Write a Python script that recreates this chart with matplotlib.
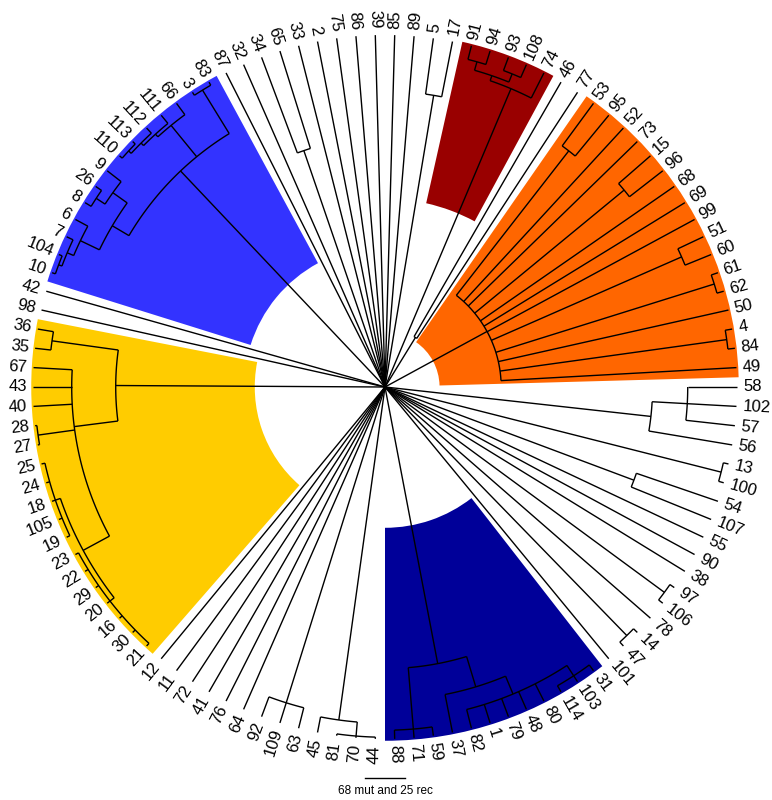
import numpy as np
import matplotlib
matplotlib.use("Agg")
import matplotlib.pyplot as plt
from matplotlib.patches import Wedge

# ---------------- data ----------------
# Genealogy written clockwise, starting at tip 87.
# Internal node = (depth, child, child, ...); depth is the node height as a
# fraction of the root-to-tip distance; leaves are tip labels.
top_white = [87, 32, (0.71, 34, 65), 33, 2, 75, 86, 39, 85, 89, (0.84, 5, 17)]
red_clade = (0.92, (0.935, (0.96, 91, 94), (0.96, 93, 108)), 74)
mid_white = [(0.165, 46, 77)]
orange_clade = (0.33, (0.85, 53, 95), 52, 73, (0.88, 15, 96), 68, 69, 99,
                (0.92, 51, 60), (0.98, 61, 62), 50, (0.98, 4, 84), 49)
right_white = [(0.76, (0.86, 58, 102, 57), 56), (0.985, 13, 100), (0.755, 54, 107),
               55, 90, 38, (0.985, 97, 106), 78, (0.985, 14, 47), 101]
navy_clade = (0.80, (0.89, (0.945, (0.98, 31, 103, 114), 80, 48, 79, 1, 82), 37),
              (0.975, 59, 71, 88))
bottom_white = [(0.955, (0.995, 44, 70, 81), 45), (0.94, 63, 109, 92), 64, 76, 41, 72, 11, 12]
yellow_clade = (0.765,
                (0.89, (0.975, (0.99, 21, 30, 16, 20, 29, 22, 23), (0.99, 19, 105, 18, 24, 25)),
                 (0.995, 27, 28), 40, 43, 67),
                (0.955, 35, 36))
left_white = [98, 42]
blue_clade = (0.845,
              (0.90, (0.96, (0.98, (0.99, 10, 104), 7), 6), (0.95, (0.98, 8, 26), 9)),
              (0.96, (0.97, (0.98, (0.99, 110, 113), 112), 111), 66),
              (0.99, 3, 83))

highlight_clades = [blue_clade, red_clade, orange_clade, navy_clade, yellow_clade]
highlight_colors = ["#3333FF", "#990000", "#FF6600", "#000099", "#FFCC00"]
highlight_inner = [0.40, 0.535, 0.155, 0.40, 0.37]

scale_label = "68 mut and 25 rec"
scale_length = 0.114

root = tuple([0.0] + top_white + [red_clade] + mid_white + [orange_clade] + right_white
             + [navy_clade] + bottom_white + [yellow_clade] + left_white + [blue_clade])

# ---------------- layout ----------------
tips = []
def collect(node):
    if isinstance(node, tuple):
        for c in node[1:]:
            collect(c)
    else:
        tips.append(node)
collect(root)
n_tips = len(tips)
step = 360.0 / n_tips
theta_start = 360.0 * 37 / n_tips
tip_angle = {t: theta_start - i * step for i, t in enumerate(tips)}

def angle_of(node):
    if isinstance(node, tuple):
        return np.mean([angle_of(c) for c in node[1:]])
    return tip_angle[node]

def depth_of(node):
    return node[0] if isinstance(node, tuple) else 1.0

def tips_of(node):
    out = []
    if isinstance(node, tuple):
        for c in node[1:]:
            out += tips_of(c)
    else:
        out.append(node)
    return out

# ---------------- figure ----------------
W, H = 772, 800
fig = plt.figure(figsize=(W / 100, H / 100), dpi=100)
ax = fig.add_axes([0, 0, 1, 1])
px = 352.0
cx, cy = 385.0, 413.0
ax.set_xlim(-cx / px, (W - cx) / px)
ax.set_ylim(-cy / px, (H - cy) / px)
ax.axis("off")

# highlight wedges
for clade, col, rin in zip(highlight_clades, highlight_colors, highlight_inner):
    angs = [tip_angle[t] for t in tips_of(clade)]
    a1 = min(angs) - step / 2
    a2 = max(angs) + step / 2
    ax.add_patch(Wedge((0, 0), 1.005, a1, a2, width=1.005 - rin,
                       facecolor=col, edgecolor="none", zorder=1))

lw = 1.0
def draw(node):
    if not isinstance(node, tuple):
        return
    d = node[0]
    child_angles = [angle_of(c) for c in node[1:]]
    if d > 0:
        th = np.radians(np.linspace(min(child_angles), max(child_angles), 60))
        ax.plot(d * np.cos(th), d * np.sin(th), color="black", lw=lw, zorder=3,
                solid_capstyle="butt")
    for c, a in zip(node[1:], child_angles):
        r1 = depth_of(c)
        t = np.radians(a)
        ax.plot([d * np.cos(t), r1 * np.cos(t)], [d * np.sin(t), r1 * np.sin(t)],
                color="black", lw=lw, zorder=3, solid_capstyle="butt")
        draw(c)
draw(root)

# tip labels
off = 0.018
for t in tips:
    a = tip_angle[t] % 360
    rad = np.radians(a)
    x, y = (1 + off) * np.cos(rad), (1 + off) * np.sin(rad)
    if np.cos(rad) >= 0:
        rot, ha = a if a < 180 else a - 360, "left"
    else:
        rot, ha = a - 180, "right"
    ax.text(x, y, str(t), rotation=rot, rotation_mode="anchor", ha=ha, va="center",
            fontsize=12, family="Liberation Sans", zorder=4)

# scale bar
sb_y = (H - 778 - cy) / px
ax.plot([-scale_length / 2, scale_length / 2], [sb_y, sb_y], color="black", lw=1.0)
ax.text(0, sb_y - 0.02, scale_label, ha="center", va="top", fontsize=8.5,
        family="Liberation Sans")

fig.savefig("out.png", dpi=100)
